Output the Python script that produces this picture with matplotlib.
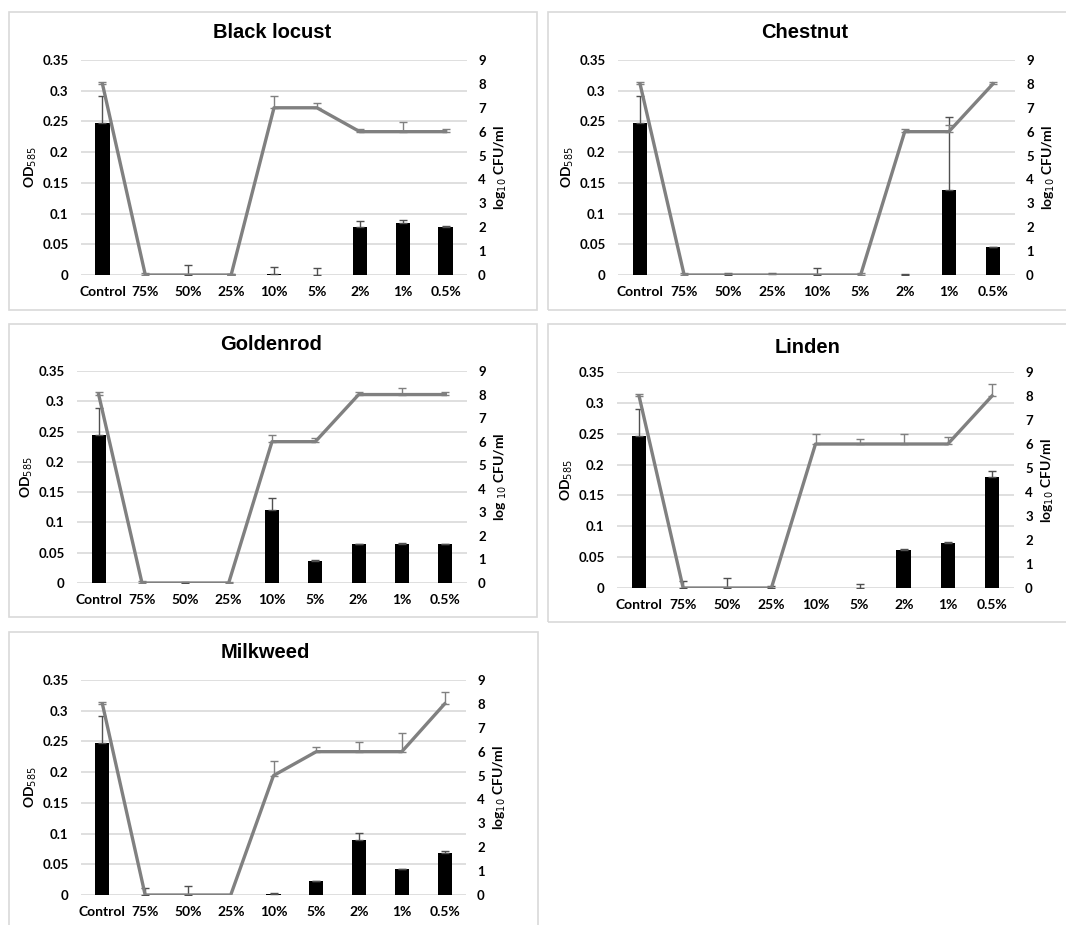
import numpy as np
import matplotlib.pyplot as plt
from matplotlib.patches import Rectangle

W, H = 1066, 925

categories = ['Control', '75%', '50%', '25%', '10%', '5%', '2%', '1%', '0.5%']
titles = ['Black locust', 'Chestnut', 'Goldenrod', 'Linden', 'Milkweed']

# OD585 (bars) with upper error
bl_od = [0.248, 0, 0, 0, 0.001, 0, 0.078, 0.085, 0.078]
bl_od_err = [0.043, 0, 0.016, 0.001, 0.012, 0.011, 0.010, 0.005, 0.002]
ch_od = [0.248, 0, 0, 0.002, 0, 0, 0, 0.138, 0.045]
ch_od_err = [0.043, 0, 0.003, 0.001, 0.012, 0, 0.001, 0.119, 0.001]
go_od = [0.245, 0, 0, 0, 0.121, 0.037, 0.064, 0.065, 0.064]
go_od_err = [0.044, 0, 0.002, 0, 0.020, 0.001, 0.001, 0.001, 0.001]
li_od = [0.246, 0, 0, 0, 0, 0, 0.062, 0.073, 0.180]
li_od_err = [0.044, 0.012, 0.016, 0.003, 0, 0.007, 0.001, 0.001, 0.010]
mi_od = [0.247, 0, 0, 0, 0.002, 0.022, 0.089, 0.042, 0.069]
mi_od_err = [0.044, 0.011, 0.015, 0, 0.001, 0.001, 0.012, 0.001, 0.002]

# log10 CFU/ml (line) with upper error
bl_cfu = [8, 0, 0, 0, 7, 7, 6, 6, 6]
bl_cfu_err = [0.1, 0.1, 0, 0.05, 0.5, 0.2, 0.1, 0.4, 0.1]
ch_cfu = [8, 0, 0, 0, 0, 0, 6, 6, 8]
ch_cfu_err = [0.1, 0.1, 0, 0, 0, 0.1, 0.1, 0.3, 0.1]
go_cfu = [8, 0, 0, 0, 6, 6, 8, 8, 8]
go_cfu_err = [0.1, 0.1, 0, 0.05, 0.27, 0.15, 0.1, 0.27, 0.1]
li_cfu = [8, 0, 0, 0, 6, 6, 6, 6, 8]
li_cfu_err = [0.1, 0, 0, 0, 0.4, 0.2, 0.4, 0.3, 0.5]
mi_cfu = [8, 0, 0, 0, 5, 6, 6, 6, 8]
mi_cfu_err = [0.1, 0, 0, 0, 0.6, 0.2, 0.4, 0.8, 0.5]

od_data = [bl_od, ch_od, go_od, li_od, mi_od]
od_errs = [bl_od_err, ch_od_err, go_od_err, li_od_err, mi_od_err]
cfu_data = [bl_cfu, ch_cfu, go_cfu, li_cfu, mi_cfu]
cfu_errs = [bl_cfu_err, ch_cfu_err, go_cfu_err, li_cfu_err, mi_cfu_err]
right_labels = ['log$_{10}$ CFU/ml', 'log$_{10}$ CFU/ml', 'log $_{10}$ CFU/ml',
                'log$_{10}$ CFU/ml', 'log$_{10}$ CFU/ml']

# pixel layout: plot area (left, right, top, bottom), panel border, title centre
areas = [(81, 467, 60, 275), (618, 1015, 60, 275), (77, 467, 371, 583),
         (617, 1014, 372, 588), (81, 466, 680, 895)]
borders = [(9, 537, 12, 310), (548, 1085, 12, 310), (9, 537, 324, 617),
           (548, 1085, 324, 622), (9, 538, 632, 940)]
title_pos = [(272, 33), (805, 33), (271, 345), (808, 348), (265, 653)]

tick_font = 'Lato'
grid_color = '#d9d9d9'
line_color = '#808080'

fig = plt.figure(figsize=(W / 100, H / 100), dpi=100)

for (l, r, t, b) in borders:
    fig.patches.append(Rectangle((l / W, 1 - b / H), (r - l) / W, (b - t) / H,
                                 transform=fig.transFigure, fill=False,
                                 edgecolor=grid_color, lw=1.2))

x = np.arange(len(categories))

for i in range(5):
    l, r, t, b = areas[i]
    ax = fig.add_axes([l / W, 1 - b / H, (r - l) / W, (b - t) / H])
    od = np.array(od_data[i])
    oe = np.array(od_errs[i])
    ax.bar(x, od, width=0.33, color='black', zorder=2)
    m = oe > 0
    ax.errorbar(x[m], od[m], yerr=[np.zeros(m.sum()), oe[m]], fmt='none',
                ecolor='#505050', elinewidth=1, capsize=3, capthick=1, zorder=3)
    ax.set_xlim(-0.5, 8.5)
    ax.set_ylim(0, 0.35)
    ax.set_yticks(np.arange(0, 0.351, 0.05))
    ax.set_yticklabels(['0', '0.05', '0.1', '0.15', '0.2', '0.25', '0.3', '0.35'])
    ax.set_xticks(x)
    ax.set_xticklabels(categories)
    ax.grid(axis='y', color=grid_color, lw=1.2, zorder=0)
    ax.set_axisbelow(True)
    for s in ax.spines.values():
        s.set_visible(False)
    ax.tick_params(axis='y', length=0, pad=9, labelsize=9.5)
    ax.tick_params(axis='x', length=0, pad=8, labelsize=10)
    for lab in ax.get_xticklabels() + ax.get_yticklabels():
        lab.set_fontfamily(tick_font)
        lab.set_fontweight('bold')
    ax.set_ylabel('OD$_{585}$', fontsize=10, fontfamily=tick_font,
                  fontweight='bold', labelpad=2)

    ax2 = ax.twinx()
    cfu = np.array(cfu_data[i])
    ce = np.array(cfu_errs[i])
    ax2.plot(x, cfu, color=line_color, lw=2.4, zorder=3)
    m = ce > 0
    ax2.errorbar(x[m], cfu[m], yerr=[np.zeros(m.sum()), ce[m]], fmt='none',
                 ecolor=line_color, elinewidth=1, capsize=3, capthick=1)
    ax2.set_ylim(0, 9)
    ax2.set_yticks(range(10))
    for s in ax2.spines.values():
        s.set_visible(False)
    ax2.tick_params(axis='y', length=0, pad=8, labelsize=9.5)
    for lab in ax2.get_yticklabels():
        lab.set_fontfamily(tick_font)
        lab.set_fontweight('bold')
    ax2.set_ylabel(right_labels[i], fontsize=10, fontfamily=tick_font,
                   fontweight='bold', labelpad=5, rotation=90)

    tx, ty = title_pos[i]
    fig.text(tx / W, 1 - ty / H, titles[i], ha='center', va='center',
             fontsize=14.5, fontweight='bold', fontfamily='Liberation Sans')

fig.savefig('out.png', dpi=100, facecolor='white')
